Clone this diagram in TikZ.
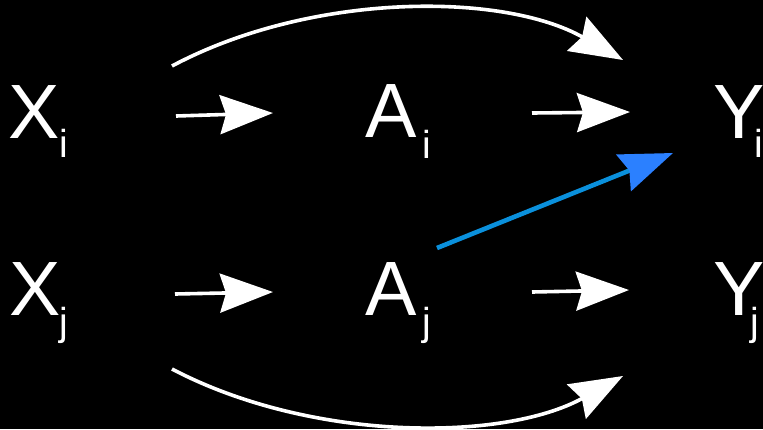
\documentclass[tikz,border=0pt]{standalone}
\usepackage{fontspec}
\setmainfont{Liberation Sans}
\usetikzlibrary{arrows.meta}
\definecolor{bluline}{RGB}{10,144,220}
\definecolor{bluhead}{RGB}{43,128,255}
\tikzset{
  mainlbl/.style={text=white, inner sep=0pt, anchor=base west, font=\fontsize{77}{77}\selectfont},
  sublbl/.style={text=white, inner sep=0pt, anchor=base west, font=\fontsize{39}{39}\selectfont},
  arr/.style={draw=white, line width=3.6pt, -{Stealth[length=53pt,width=39pt,inset=6pt]}},
  bluearr/.style={draw=bluline, line width=4.6pt, -{Stealth[length=53pt,width=39pt,inset=6pt,color=bluhead]}}
}
\begin{document}
\begin{tikzpicture}[x=1pt,y=-1pt]
\fill[black] (0,0) rectangle (763,429);
\useasboundingbox (0,0) rectangle (763,429);
% labels
\node[mainlbl] (Xi) at (8,138) {X};
\node[sublbl] (Xis) at (59.5,157.5) {i};
\node[mainlbl] (Ai) at (365,137.5) {A};
\node[sublbl] (Ais) at (422.5,158.5) {i};
\node[mainlbl] (Yi) at (713,138) {Y};
\node[sublbl] (Yis) at (754.5,157.5) {i};
\node[mainlbl] (Xj) at (9,315) {X};
\node[sublbl] (Xjs) at (59,335) {j};
\node[mainlbl] (Aj) at (365,315) {A};
\node[sublbl] (Ajs) at (422,335) {j};
\node[mainlbl] (Yj) at (713,315) {Y};
\node[sublbl] (Yjs) at (750,335) {j};
% connector end points
\coordinate (xi1) at (176,116);
\coordinate (ai0) at (273,113);
\coordinate (ai1) at (532,113);
\coordinate (yi0) at (630,112);
\coordinate (xj1) at (175,294);
\coordinate (aj0) at (273,292);
\coordinate (aj1) at (532,292);
\coordinate (yj0) at (629,290);
\coordinate (xtop) at (172,66);
\coordinate (ytop) at (623,60);
\coordinate (xbot) at (172,369);
\coordinate (ybot) at (623,376);
\coordinate (ajb) at (437,248);
\coordinate (yib) at (673,153);
% arrows
\draw[arr] (xi1) -- (ai0);
\draw[arr] (ai1) -- (yi0);
\draw[arr] (xj1) -- (aj0);
\draw[arr] (aj1) -- (yj0);
\draw[arr] (xtop) .. controls (311,-8) and (503,-8) .. (ytop);
\draw[arr] (xbot) .. controls (311,442) and (503,442) .. (ybot);
\draw[bluearr] (ajb) -- (yib);
\end{tikzpicture}
\end{document}
